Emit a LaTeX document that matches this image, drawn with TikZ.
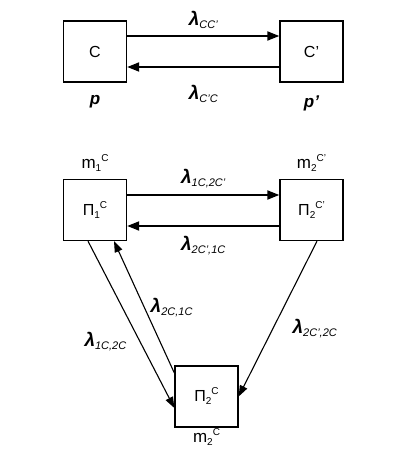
\documentclass[tikz,border=0pt]{standalone}
\usepackage{fontspec}
\setmainfont{Liberation Sans}
\usetikzlibrary{arrows.meta, positioning}

\newcommand{\rate}[1]{{\bfseries\itshape λ}\raisebox{-3pt}{\fontsize{11}{11}\selectfont\itshape #1}}
\newcommand{\lo}[1]{\raisebox{-3pt}{\fontsize{10}{10}\selectfont #1}}
\newcommand{\hi}[1]{\raisebox{7pt}{\fontsize{10}{10}\selectfont #1}}

\begin{document}
\begin{tikzpicture}[
    x=1pt, y=-1pt,
    state/.style={rectangle, draw, line width=1.3pt, minimum width=63pt,
                  minimum height=61pt, inner sep=0pt, font=\fontsize{16}{16}\selectfont},
    flow/.style={-{Triangle[length=12pt, width=9pt]}, line width=1.8pt},
    jump/.style={-{Triangle[length=11pt, width=8pt]}, line width=1.1pt},
    ratelbl/.style={font=\fontsize{19}{19}\selectfont, inner sep=1pt},
    poplbl/.style={font=\fontsize{17}{17}\selectfont, inner sep=1pt}
]
\useasboundingbox (0,0) rectangle (412,465);

% two-state chain
\node[state] (C)  at (95, 51.5)  {C};
\node[state] (Cp) at (311.5, 51.5) {C'};
\node[poplbl, below=12pt of C, font=\fontsize{17}{17}\selectfont\bfseries\itshape] (p) {p};
\node[poplbl, below=12pt of Cp, font=\fontsize{17}{17}\selectfont\bfseries\itshape] (pp) {p'};
\draw[flow] ([yshift=15.5pt]C.east) -- ([yshift=15.5pt]Cp.west)
    node[midway, above=5pt, ratelbl] (rCCp) {\rate{CC'}};
\draw[flow] ([yshift=-15.5pt]Cp.west) -- ([yshift=-15.5pt]C.east)
    node[midway, below=16pt, ratelbl] (rCpC) {\rate{C'C}};

% three-state chain
\node[state] (P1)  at (95, 210)     {Π\lo{1}\hi{C}};
\node[state] (P2p) at (311.5, 210)  {Π\lo{2}\hi{C'}};
\node[state] (P2)  at (206.5, 396.5) {Π\lo{2}\hi{C}};
\node[poplbl, above=6pt of P1]  (m1)  {m\lo{1}\hi{C}};
\node[poplbl, above=6pt of P2p] (m2p) {m\lo{2}\hi{C'}};
\node[poplbl, below=0pt of P2]  (m2)  {m\lo{2}\hi{C}};

\draw[flow] ([yshift=15pt]P1.east) -- ([yshift=15pt]P2p.west)
    node[midway, above=5pt, ratelbl] (r1to2p) {\rate{1C,2C'}};
\draw[flow] ([yshift=-16pt]P2p.west) -- ([yshift=-16pt]P1.east)
    node[midway, below=8pt, ratelbl] (r2pto1) {\rate{2C',1C}};
\draw[jump] ([xshift=-7pt]P1.south) -- ([yshift=-11.5pt]P2.west)
    node[pos=0.6, left=12pt, ratelbl] (r1to2) {\rate{1C,2C}};
\draw[jump] ([yshift=23.5pt]P2.west) -- ([xshift=19pt]P1.south)
    node[midway, right=5pt, ratelbl] (r2to1) {\rate{2C,1C}};
\draw[jump] ([xshift=5.5pt]P2p.south) -- (P2.east)
    node[pos=0.56, right=18pt, ratelbl] (r2pto2) {\rate{2C',2C}};
\end{tikzpicture}
\end{document}
